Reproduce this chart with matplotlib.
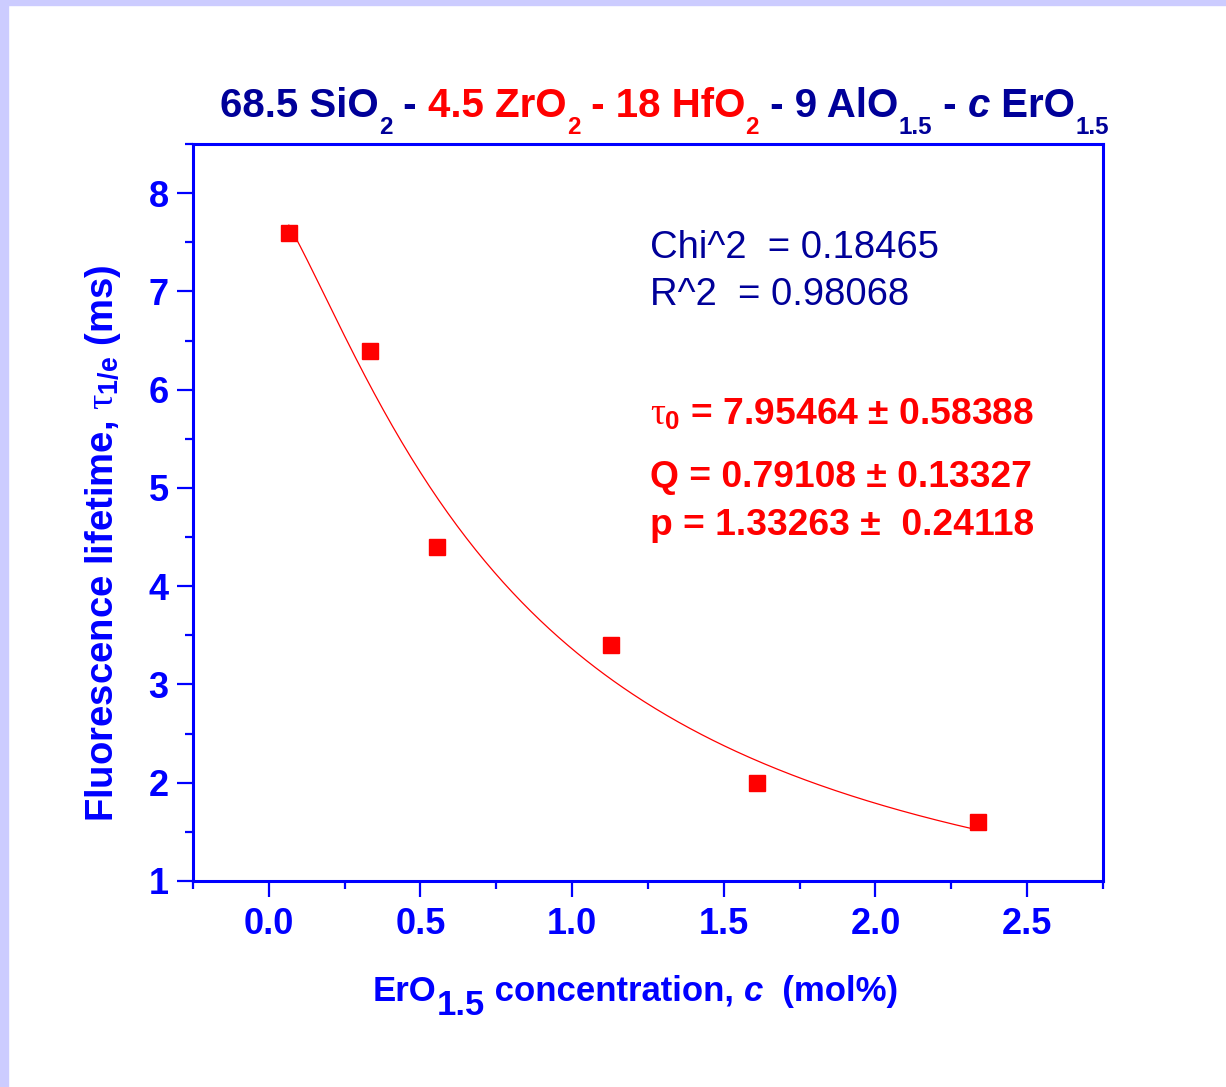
import numpy as np
import matplotlib
matplotlib.use('Agg')
import matplotlib.pyplot as plt
from matplotlib.ticker import MultipleLocator, FormatStrFormatter

plt.rcParams['font.family'] = ['Liberation Sans', 'DejaVu Sans']
plt.rcParams['mathtext.fontset'] = 'custom'
plt.rcParams['mathtext.rm'] = 'Liberation Sans:bold'
plt.rcParams['mathtext.bf'] = 'Liberation Sans:bold'
plt.rcParams['mathtext.it'] = 'Liberation Serif'

# measured lifetimes
conc = [0.066, 0.332, 0.556, 1.128, 1.609, 2.339]
tau = [7.59, 6.39, 4.40, 3.40, 2.00, 1.60]

# fit parameters shown on the chart: tau = tau0 / (1 + (c/Q)^p)
tau0 = 7.95464
Q = 0.79108
p = 1.33263
fit_lines = ['Chi^2  = 0.18465', 'R^2  = 0.98068']
param_lines = [r'$\tau_{\mathit{0}}$ = 7.95464 $\pm$ 0.58388',
               'Q = 0.79108 ± 0.13327',
               'p = 1.33263 ±  0.24118']

BLUE = '#0000ff'
NAVY = '#000099'
RED = '#ff0000'

fig = plt.figure(figsize=(12.26, 10.87), dpi=100)
fig.patch.set_facecolor('white')
# lavender frame strips at top and left
fig.patches.append(plt.Rectangle((0, 1 - 5 / 1087), 1, 5 / 1087, transform=fig.transFigure,
                                 color='#ccccff', zorder=0))
fig.patches.append(plt.Rectangle((0, 0), 8 / 1226, 1, transform=fig.transFigure,
                                 color='#ccccff', zorder=0))

ax = fig.add_axes([193 / 1226, 1 - 881 / 1087, 910 / 1226, 737 / 1087])

cc = np.linspace(conc[0], conc[-1], 300)
ax.plot(cc, tau0 / (1 + (cc / Q) ** p), color=RED, lw=0.9, zorder=2)
ax.plot(conc, tau, 's', color=RED, ms=11.3, mec=RED, zorder=3)

ax.set_xlim(-0.25, 2.75)
ax.set_ylim(1, 8.5)
ax.xaxis.set_major_locator(MultipleLocator(0.5))
ax.xaxis.set_minor_locator(MultipleLocator(0.25))
ax.xaxis.set_major_formatter(FormatStrFormatter('%.1f'))
ax.yaxis.set_major_locator(MultipleLocator(1))
ax.yaxis.set_minor_locator(MultipleLocator(0.5))

for s in ax.spines.values():
    s.set_color(BLUE)
    s.set_linewidth(2.2)
ax.tick_params(which='both', direction='out', color=BLUE, width=1.6,
               top=False, right=False)
ax.tick_params(which='major', length=11.5, labelsize=26, labelcolor=BLUE)
ax.tick_params(which='minor', length=5.8)
ax.tick_params(axis='x', pad=7)
ax.tick_params(axis='y', pad=6)
for lb in ax.get_xticklabels() + ax.get_yticklabels():
    lb.set_fontweight('bold')


def chain(x, y, parts, size):
    # parts: (text, color, dy_points, size_scale, style)
    prev = None
    for txt, col, dy, sc, st in parts:
        if prev is None:
            prev = fig.text(x / 1226, 1 - y / 1087, txt, color=col, fontsize=size * sc,
                            fontweight='bold', style=st, va='baseline', ha='left')
            continue
        prev = ax.annotate(txt, xy=(1, 1 - y / 1087), xycoords=(prev, 'figure fraction'),
                           xytext=(0, dy), textcoords='offset points',
                           color=col, fontsize=size * sc, fontweight='bold', style=st,
                           va='baseline', ha='left', annotation_clip=False)


title_parts = [
    ('68.5 SiO', NAVY, 0, 1, 'normal'),
    ('2', NAVY, -12, 0.6, 'normal'),
    (' - ', NAVY, 0, 1, 'normal'),
    ('4.5 ZrO', RED, 0, 1, 'normal'),
    ('2', RED, -12, 0.6, 'normal'),
    (' - 18 HfO', RED, 0, 1, 'normal'),
    ('2', RED, -12, 0.6, 'normal'),
    (' - 9 AlO', NAVY, 0, 1, 'normal'),
    ('1.5', NAVY, -12, 0.6, 'normal'),
    (' - ', NAVY, 0, 1, 'normal'),
    ('c', NAVY, 0, 1, 'italic'),
    (' ErO', NAVY, 0, 1, 'normal'),
    ('1.5', NAVY, -12, 0.6, 'normal'),
]
chain(220, 117, title_parts, 29)

xlabel_parts = [
    ('ErO', BLUE, 0, 1, 'normal'),
    ('1.5', BLUE, -10, 1, 'normal'),
    (' concentration, ', BLUE, 0, 1, 'normal'),
    ('c', BLUE, 0, 1, 'italic'),
    ('  (mol%)', BLUE, 0, 1, 'normal'),
]
chain(373, 1001, xlabel_parts, 25)

fig.text(103 / 1226, 1 - 543 / 1087, r'Fluorescence lifetime, $\tau_{\mathrm{1/e}}$ (ms)',
         rotation=90, ha='center', va='center', color=BLUE, fontsize=27.5,
         fontweight='bold')

for i, line in enumerate(fit_lines):
    fig.text(650 / 1226, 1 - (258 + 47 * i) / 1087, line, color=NAVY, fontsize=27.5,
             va='baseline', ha='left')

for line, yb in zip(param_lines, [425, 487, 535]):
    fig.text(650 / 1226, 1 - yb / 1087, line, color=RED, fontsize=26.8,
             fontweight='bold', va='baseline', ha='left')

fig.savefig('out.png', dpi=100)
